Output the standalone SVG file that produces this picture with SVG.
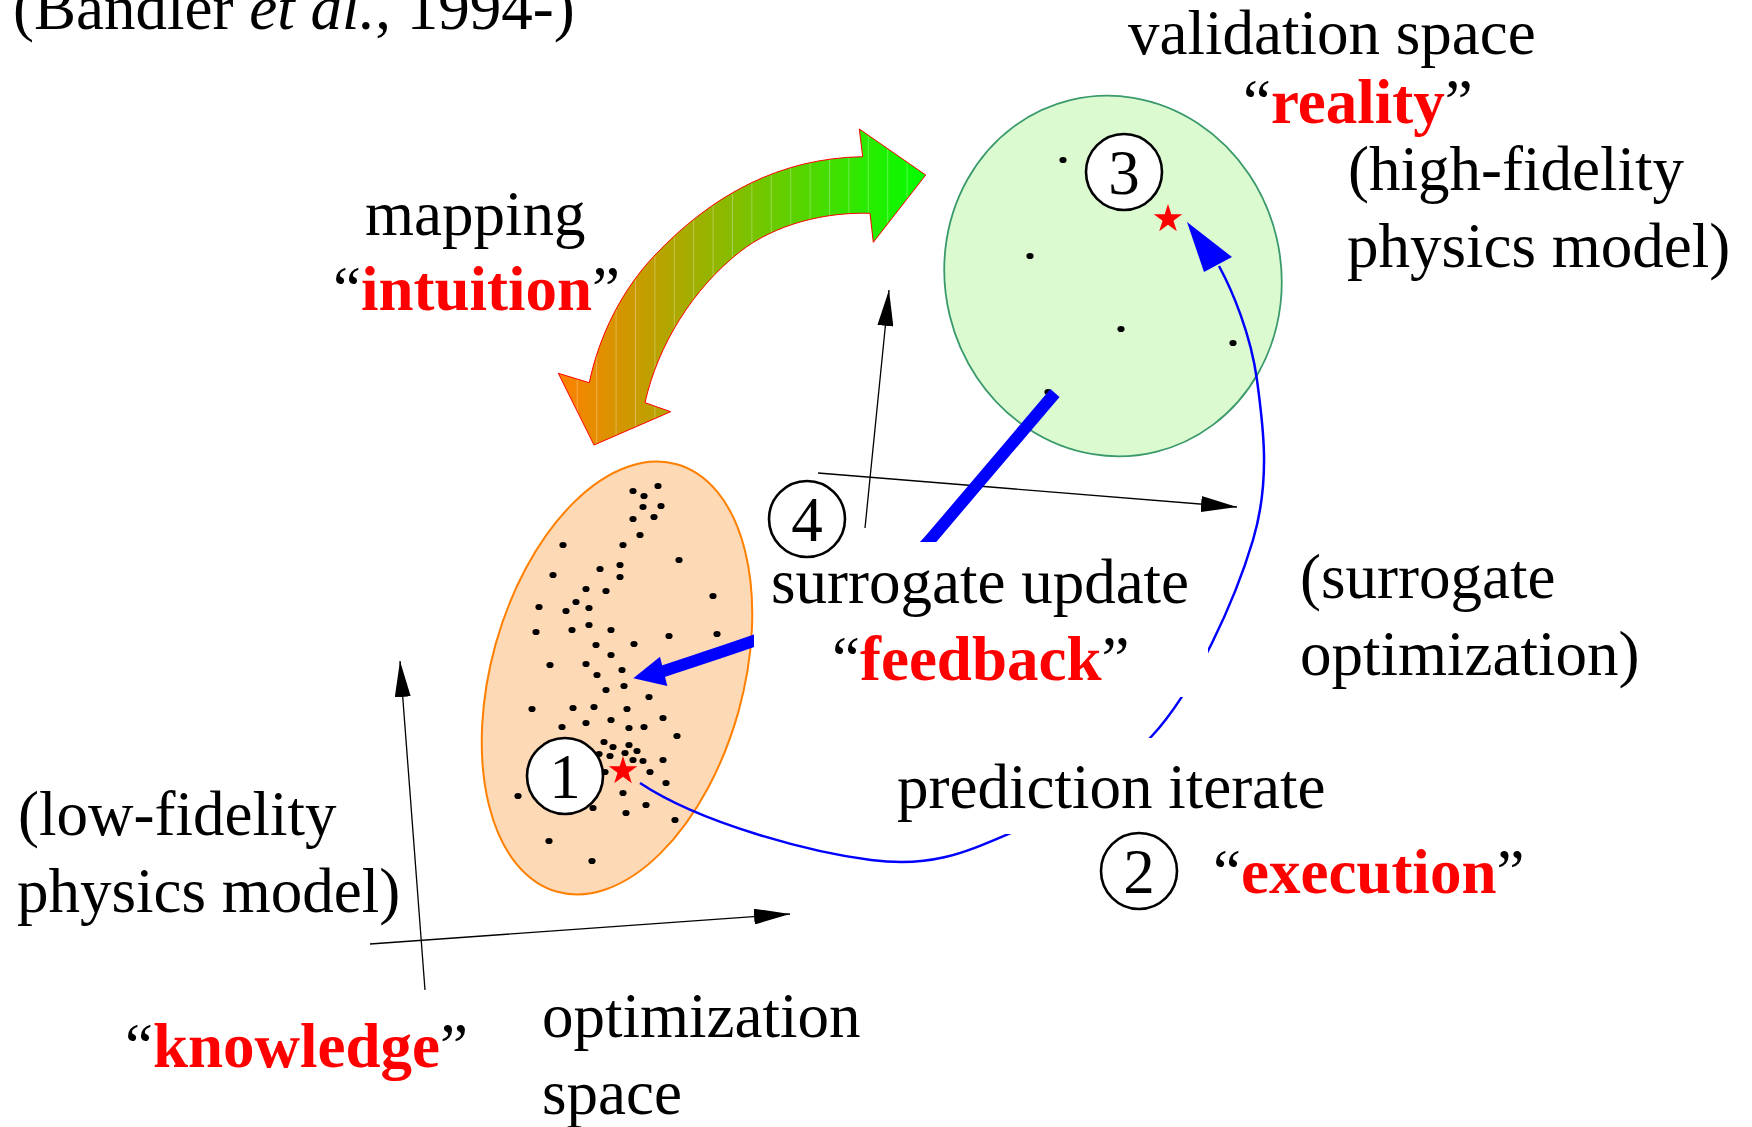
<svg xmlns="http://www.w3.org/2000/svg" xmlns:xlink="http://www.w3.org/1999/xlink" width="1752" height="1127" viewBox="0 0 1752 1127">
<style>
.t{font-family:'Liberation Serif','Times New Roman',serif;font-size:63px;fill:#000}
.r{font-weight:bold;fill:#FF0000}
.ax{stroke:#000;stroke-width:1.3;fill:none}
.num{stroke:#000;stroke-width:2.6;fill:#fff}
.star{fill:#FF0000}
.bg{fill:#fff;stroke:none}
</style>
<defs>
<ellipse id="dot" rx="3.6" ry="3.1" fill="#000"/>
<polygon id="star" points="0,-15 3.37,-4.64 14.27,-4.64 5.45,1.77 8.82,12.14 0,5.73 -8.82,12.14 -5.45,1.77 -14.27,-4.64 -3.37,-4.64"/>
<marker id="ah" markerUnits="userSpaceOnUse" markerWidth="36" markerHeight="16" refX="36" refY="8" orient="auto" viewBox="0 0 36 16">
<path d="M0,0 L36,8 L0,16 Z" fill="#000"/>
</marker>
<linearGradient id="mg" gradientUnits="userSpaceOnUse" x1="558" y1="0" x2="926" y2="0">
<stop offset="0" stop-color="#FF8000"/>
<stop offset="1" stop-color="#00FF00"/>
</linearGradient>
<clipPath id="mclip">
<path d="M862.7,156.7 L859.3,129 L925.7,175 L873.3,242.3 L870,213.3 C825,212 775.5,224 740,251.7 C693,288.7 658,344.7 645,402.7 L670.7,411.7 L594,445 L558.3,373.3 L589.3,382.7 C599,335.7 622,289.6 655,255 C712,195 780,158 862.7,156.7 Z"/>
</clipPath>
</defs>
<rect width="1752" height="1127" fill="#fff"/>

<g id="low-fidelity-space">
<ellipse cx="617" cy="678" rx="126" ry="222" transform="rotate(15.6 617 678)" fill="#FDD9B5" stroke="#FF7F00" stroke-width="2"/>
<g id="low-fidelity-samples">
<use href="#dot" x="658" y="486"/><use href="#dot" x="633" y="491"/><use href="#dot" x="644" y="496"/><use href="#dot" x="661" y="506"/><use href="#dot" x="643" y="507"/><use href="#dot" x="654" y="517"/><use href="#dot" x="633" y="519"/><use href="#dot" x="640" y="535"/><use href="#dot" x="623" y="545"/><use href="#dot" x="563" y="545"/>
<use href="#dot" x="679" y="560"/><use href="#dot" x="600" y="569"/><use href="#dot" x="620" y="565"/><use href="#dot" x="620" y="577"/><use href="#dot" x="553" y="575"/><use href="#dot" x="586" y="589"/><use href="#dot" x="606" y="591"/><use href="#dot" x="713" y="596"/><use href="#dot" x="539" y="607"/><use href="#dot" x="576" y="602"/>
<use href="#dot" x="566" y="611"/><use href="#dot" x="589" y="608"/><use href="#dot" x="536" y="632"/><use href="#dot" x="572" y="630"/><use href="#dot" x="589" y="625"/><use href="#dot" x="611" y="630"/><use href="#dot" x="669" y="636"/><use href="#dot" x="717" y="634"/><use href="#dot" x="596" y="645"/><use href="#dot" x="634" y="644"/>
<use href="#dot" x="611" y="655"/><use href="#dot" x="550" y="665"/><use href="#dot" x="586" y="664"/><use href="#dot" x="597" y="675"/><use href="#dot" x="622" y="670"/><use href="#dot" x="606" y="690"/><use href="#dot" x="624" y="686"/><use href="#dot" x="649" y="697"/><use href="#dot" x="532" y="709"/><use href="#dot" x="573" y="708"/>
<use href="#dot" x="594" y="707"/><use href="#dot" x="627" y="709"/><use href="#dot" x="663" y="718"/><use href="#dot" x="562" y="727"/><use href="#dot" x="586" y="723"/><use href="#dot" x="611" y="720"/><use href="#dot" x="629" y="728"/><use href="#dot" x="644" y="727"/><use href="#dot" x="677" y="736"/><use href="#dot" x="604" y="742"/>
<use href="#dot" x="613" y="747"/><use href="#dot" x="629" y="745"/><use href="#dot" x="637" y="751"/><use href="#dot" x="599" y="754"/><use href="#dot" x="610" y="756"/><use href="#dot" x="625" y="753"/><use href="#dot" x="633" y="760"/><use href="#dot" x="643" y="761"/><use href="#dot" x="663" y="760"/><use href="#dot" x="605" y="772"/>
<use href="#dot" x="650" y="772"/><use href="#dot" x="666" y="783"/><use href="#dot" x="518" y="796"/><use href="#dot" x="623" y="793"/><use href="#dot" x="646" y="805"/><use href="#dot" x="593" y="808"/><use href="#dot" x="626" y="813"/><use href="#dot" x="675" y="820"/><use href="#dot" x="549" y="841"/><use href="#dot" x="592" y="861"/>
</g>
<use href="#star" class="star" x="623" y="771"/>
</g>

<g id="validation-space">
<ellipse cx="1113" cy="276" rx="168" ry="181" transform="rotate(-13.7 1113 276)" fill="#DCFAD0" stroke="#3A9A6C" stroke-width="1.8"/>
<use href="#dot" x="1063" y="160"/><use href="#dot" x="1030" y="256"/><use href="#dot" x="1121" y="329"/><use href="#dot" x="1233" y="343"/><use href="#dot" x="1048" y="392"/>
<use href="#star" class="star" x="1168" y="219"/>
</g>

<g id="connectors">
<g id="axes-low">
<line class="ax" x1="370" y1="944" x2="790" y2="914" marker-end="url(#ah)"/>
<line class="ax" x1="425" y1="990" x2="400" y2="661" marker-end="url(#ah)"/>
</g>
<g id="axes-high">
<line class="ax" x1="818" y1="473" x2="1237" y2="507" marker-end="url(#ah)"/>
<line class="ax" x1="865" y1="528" x2="889" y2="290" marker-end="url(#ah)"/>
</g>
<g id="mapping-arrow">
<path d="M862.7,156.7 L859.3,129 L925.7,175 L873.3,242.3 L870,213.3 C825,212 775.5,224 740,251.7 C693,288.7 658,344.7 645,402.7 L670.7,411.7 L594,445 L558.3,373.3 L589.3,382.7 C599,335.7 622,289.6 655,255 C712,195 780,158 862.7,156.7 Z" fill="url(#mg)"/>
<g clip-path="url(#mclip)" stroke="#fff" stroke-opacity="0.3" stroke-width="1">
<path d="M577.3,120V450M596.7,120V450M616.1,120V450M635.5,120V450M654.9,120V450M674.3,120V450M693.7,120V450M713.1,120V450M732.5,120V450M751.9,120V450M771.3,120V450M790.7,120V450M810.1,120V450M829.5,120V450M848.9,120V450M868.3,120V450M887.7,120V450M907.1,120V450"/>
</g>
<path d="M862.7,156.7 L859.3,129 L925.7,175 L873.3,242.3 L870,213.3 C825,212 775.5,224 740,251.7 C693,288.7 658,344.7 645,402.7 L670.7,411.7 L594,445 L558.3,373.3 L589.3,382.7 C599,335.7 622,289.6 655,255 C712,195 780,158 862.7,156.7 Z" fill="none" stroke="#FF0000" stroke-width="1"/>
</g>
<g id="feedback-arrow">
<path d="M1055,393 L930,540 C872,608 759,639 658,673" fill="none" stroke="#0000FF" stroke-width="12" stroke-linecap="butt"/>
<polygon points="633.3,678.3 660,656.7 667.3,686" fill="#0000FF"/>
</g>
<g id="execution-arrow">
<path d="M640,783 C700,823 809,852 871,860 C933,868 966,852 1013,832 C1060,811.5 1107,784 1151,737 C1195,690 1235.3,599.5 1253,540 C1270.7,480.5 1263.3,426.3 1257,380 C1250.7,333.7 1232,290 1219,266" fill="none" stroke="#0000FF" stroke-width="2.5"/>
<polygon points="1187,222 1204,272 1232,257" fill="#0000FF"/>
</g>
</g>

<g id="label-surrogate-update">
<rect class="bg" x="754" y="542" width="454" height="155"/>
<text class="t" x="771" y="603">surrogate update</text>
<text class="t" x="832" y="680">“<tspan class="r">feedback</tspan>”</text>
</g>
<g id="label-prediction-iterate">
<rect class="bg" x="890" y="738" width="450" height="96"/>
<text class="t" x="897" y="808">prediction iterate</text>
</g>

<g id="step-1"><circle class="num" cx="565" cy="776" r="38"/><text class="t" x="565" y="798" text-anchor="middle">1</text></g>
<g id="step-2"><circle class="num" cx="1139" cy="871" r="38"/><text class="t" x="1139" y="893" text-anchor="middle">2</text></g>
<g id="step-3"><circle class="num" cx="1124" cy="172" r="38"/><text class="t" x="1124" y="194" text-anchor="middle">3</text></g>
<g id="step-4"><circle class="num" cx="807" cy="519" r="38"/><text class="t" x="807" y="541" text-anchor="middle">4</text></g>

<g id="labels">
<text class="t" x="13" y="29">(Bandler <tspan font-style="italic">et al.</tspan>, 1994-)</text>
<text class="t" x="1128" y="54">validation space</text>
<text class="t" x="1243" y="123">“<tspan class="r">reality</tspan>”</text>
<text class="t" x="1348" y="190">(high-fidelity</text>
<text class="t" x="1347" y="267">physics model)</text>
<text class="t" x="365" y="235">mapping</text>
<text class="t" x="333" y="310">“<tspan class="r">intuition</tspan>”</text>
<text class="t" x="1300" y="598">(surrogate</text>
<text class="t" x="1300" y="675">optimization)</text>
<text class="t" x="1213" y="893">“<tspan class="r">execution</tspan>”</text>
<text class="t" x="18" y="835">(low-fidelity</text>
<text class="t" x="17" y="912">physics model)</text>
<text class="t" x="125" y="1067">“<tspan class="r">knowledge</tspan>”</text>
<text class="t" x="542" y="1037">optimization</text>
<text class="t" x="542" y="1114">space</text>
</g>
</svg>
